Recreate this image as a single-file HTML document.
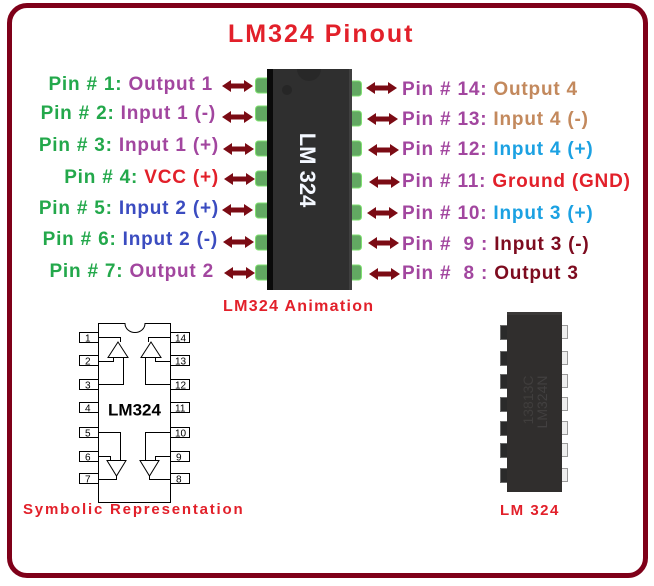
<!DOCTYPE html>
<html>
<head>
<meta charset="utf-8">
<style>
html,body{margin:0;padding:0;background:#fff;}
#wrap{position:relative;width:654px;height:586px;overflow:hidden;background:#fff;font-family:"Liberation Sans",Arial,sans-serif;}
.frame{position:absolute;left:7px;top:3px;width:631px;height:565px;border:5px solid #7f0019;border-radius:20px;}
.t{position:absolute;white-space:pre;font-weight:bold;}
.lab{font-size:19px;line-height:20px;letter-spacing:0.8px;}
.L{left:0;text-align:right;}
.g{color:#23a84b;}
.pu{color:#a2469f;}
.bl{color:#3b4cc0;}
.rd{color:#e2202a;}
.tan{color:#c3895d;}
.lb{color:#1ba1e2;}
.dr{color:#7d0b1f;}
svg{position:absolute;left:0;top:0;}
</style>
</head>
<body>
<div id="wrap">
<div class="frame"></div>

<svg width="654" height="586" viewBox="0 0 654 586">
  <!-- animation chip -->
  <g>
    <g fill="#62a862" stroke="#7fe070" stroke-width="1">
      <rect x="255.5" y="78" width="15" height="15" rx="3"/>
      <rect x="255.5" y="106" width="15" height="15" rx="3"/>
      <rect x="255.5" y="141" width="15" height="15" rx="3"/>
      <rect x="255.5" y="171" width="15" height="15" rx="3"/>
      <rect x="255.5" y="203" width="15" height="15" rx="3"/>
      <rect x="255.5" y="235" width="15" height="15" rx="3"/>
      <rect x="255.5" y="265" width="15" height="15" rx="3"/>
    </g>
    <g fill="#62a862" stroke="#7fe070" stroke-width="1">
      <rect x="347.5" y="81" width="14" height="15" rx="3"/>
      <rect x="347.5" y="111" width="14" height="15" rx="3"/>
      <rect x="347.5" y="141" width="14" height="15" rx="3"/>
      <rect x="347.5" y="173" width="14" height="15" rx="3"/>
      <rect x="347.5" y="205" width="14" height="15" rx="3"/>
      <rect x="347.5" y="235" width="14" height="15" rx="3"/>
      <rect x="347.5" y="265" width="14" height="15" rx="3"/>
    </g>
    <rect x="267" y="69" width="85" height="221" fill="#2f2f2f"/>
    <rect x="267" y="69" width="6" height="221" fill="#0a0a0a"/>
    <rect x="349" y="69" width="3" height="221" fill="#3f3f3f"/>
    <path d="M297 69 A12 12 0 0 0 321 69 Z" fill="#282828"/>
    <circle cx="287" cy="90" r="5" fill="#262626"/>
    <text x="0" y="0" transform="translate(300,170) rotate(90)" text-anchor="middle" font-family="Liberation Sans, Arial, sans-serif" font-weight="bold" font-size="22" fill="#f4f8ff">LM 324</text>
  </g>

  <!-- arrows -->
  <g fill="#7b0b14">
    <path d="M0 0 L9 -6 L9 -2.5 L22 -2.5 L22 -6 L31 0 L22 6 L22 2.5 L9 2.5 L9 6 Z" transform="translate(222,86)"/>
    <path d="M0 0 L9 -6 L9 -2.5 L22 -2.5 L22 -6 L31 0 L22 6 L22 2.5 L9 2.5 L9 6 Z" transform="translate(222,117)"/>
    <path d="M0 0 L9 -6 L9 -2.5 L22 -2.5 L22 -6 L31 0 L22 6 L22 2.5 L9 2.5 L9 6 Z" transform="translate(223,149)"/>
    <path d="M0 0 L9 -6 L9 -2.5 L22 -2.5 L22 -6 L31 0 L22 6 L22 2.5 L9 2.5 L9 6 Z" transform="translate(224,179)"/>
    <path d="M0 0 L9 -6 L9 -2.5 L22 -2.5 L22 -6 L31 0 L22 6 L22 2.5 L9 2.5 L9 6 Z" transform="translate(222,210)"/>
    <path d="M0 0 L9 -6 L9 -2.5 L22 -2.5 L22 -6 L31 0 L22 6 L22 2.5 L9 2.5 L9 6 Z" transform="translate(223,242)"/>
    <path d="M0 0 L9 -6 L9 -2.5 L22 -2.5 L22 -6 L31 0 L22 6 L22 2.5 L9 2.5 L9 6 Z" transform="translate(224,273)"/>

    <path d="M0 0 L9 -6 L9 -2.5 L22 -2.5 L22 -6 L31 0 L22 6 L22 2.5 L9 2.5 L9 6 Z" transform="translate(366,88)"/>
    <path d="M0 0 L9 -6 L9 -2.5 L22 -2.5 L22 -6 L31 0 L22 6 L22 2.5 L9 2.5 L9 6 Z" transform="translate(367,119)"/>
    <path d="M0 0 L9 -6 L9 -2.5 L22 -2.5 L22 -6 L31 0 L22 6 L22 2.5 L9 2.5 L9 6 Z" transform="translate(368,150)"/>
    <path d="M0 0 L9 -6 L9 -2.5 L22 -2.5 L22 -6 L31 0 L22 6 L22 2.5 L9 2.5 L9 6 Z" transform="translate(369,182)"/>
    <path d="M0 0 L9 -6 L9 -2.5 L22 -2.5 L22 -6 L31 0 L22 6 L22 2.5 L9 2.5 L9 6 Z" transform="translate(367,213)"/>
    <path d="M0 0 L9 -6 L9 -2.5 L22 -2.5 L22 -6 L31 0 L22 6 L22 2.5 L9 2.5 L9 6 Z" transform="translate(368,243)"/>
    <path d="M0 0 L9 -6 L9 -2.5 L22 -2.5 L22 -6 L31 0 L22 6 L22 2.5 L9 2.5 L9 6 Z" transform="translate(369,274)"/>
  </g>

  <!-- symbolic schematic -->
  <g fill="none" stroke="#000" stroke-width="1">
    <path d="M98.5 323.5 H125 A10 9 0 0 0 145 323.5 H170.5 V502.5 H98.5 Z" fill="#fff"/>
    <rect x="79.5" y="332.5" width="19" height="10"/>
    <rect x="79.5" y="355.5" width="19" height="10"/>
    <rect x="79.5" y="379.5" width="19" height="10"/>
    <rect x="79.5" y="402.5" width="19" height="10"/>
    <rect x="79.5" y="427.5" width="19" height="10"/>
    <rect x="79.5" y="451.5" width="19" height="10"/>
    <rect x="79.5" y="473.5" width="19" height="10"/>
    <rect x="170.5" y="332.5" width="19" height="10"/>
    <rect x="170.5" y="355.5" width="19" height="10"/>
    <rect x="170.5" y="379.5" width="19" height="10"/>
    <rect x="170.5" y="402.5" width="19" height="10"/>
    <rect x="170.5" y="427.5" width="19" height="10"/>
    <rect x="170.5" y="451.5" width="19" height="10"/>
    <rect x="170.5" y="473.5" width="19" height="10"/>
    <path d="M98.5 337.5 H120.5 V342"/>
    <path d="M118 342 L108 357.5 L128 357.5 Z"/>
    <path d="M113.5 357.5 V361.5 H98.5"/>
    <path d="M123.5 357.5 V384.5 H98.5"/>
    <path d="M170.5 337.5 H148.5 V342"/>
    <path d="M151 342 L141 357.5 L161 357.5 Z"/>
    <path d="M155.5 357.5 V361.5 H170.5"/>
    <path d="M145.5 357.5 V384.5 H170.5"/>
    <path d="M98.5 432.5 H120.5 V460.5"/>
    <path d="M98.5 456.5 H110.5 V460.5"/>
    <path d="M107 460.5 L126 460.5 L116.5 476 Z"/>
    <path d="M116.5 476 V479.5 H98.5"/>
    <path d="M170.5 432.5 H145.5 V460.5"/>
    <path d="M170.5 456.5 H155.5 V460.5"/>
    <path d="M140 460.5 L159 460.5 L149.5 476 Z"/>
    <path d="M149.5 476 V479.5 H170.5"/>
  </g>
  <g font-family="Liberation Sans, Arial, sans-serif" font-size="10" fill="#000">
    <text x="85" y="341.5">1</text>
    <text x="85" y="364.5">2</text>
    <text x="85" y="388.5">3</text>
    <text x="85" y="411.5">4</text>
    <text x="85" y="436.5">5</text>
    <text x="85" y="460.5">6</text>
    <text x="85" y="482.5">7</text>
    <text x="175" y="341.5">14</text>
    <text x="175" y="364.5">13</text>
    <text x="175" y="388.5">12</text>
    <text x="175" y="411.5">11</text>
    <text x="175" y="436.5">10</text>
    <text x="176" y="460.5">9</text>
    <text x="176" y="482.5">8</text>
  </g>
  <text x="134.5" y="415.5" text-anchor="middle" font-family="Liberation Sans, Arial, sans-serif" font-weight="bold" font-size="17" fill="#000">LM324</text>

  <!-- photo chip -->
  <g>
    <g fill="#2a2a2a" stroke="#6a6a6a" stroke-width="1">
      <rect x="500.5" y="325.5" width="7" height="14"/>
      <rect x="500.5" y="351.5" width="7" height="14"/>
      <rect x="500.5" y="374.5" width="7" height="14"/>
      <rect x="500.5" y="397.5" width="7" height="14"/>
      <rect x="500.5" y="421.5" width="7" height="14"/>
      <rect x="500.5" y="443.5" width="7" height="14"/>
      <rect x="500.5" y="468.5" width="7" height="14"/>
    </g>
    <g fill="#eeeeee" stroke="#9a9a9a" stroke-width="1">
      <rect x="561.5" y="325.5" width="6" height="13"/>
      <rect x="561.5" y="351.5" width="6" height="13"/>
      <rect x="561.5" y="374.5" width="6" height="13"/>
      <rect x="561.5" y="397.5" width="6" height="13"/>
      <rect x="561.5" y="421.5" width="6" height="13"/>
      <rect x="561.5" y="443.5" width="6" height="13"/>
      <rect x="561.5" y="468.5" width="6" height="13"/>
    </g>
    <rect x="507" y="312" width="55" height="180" fill="#302e2d"/>
    <rect x="507" y="312" width="55" height="3" fill="#3a3837"/>
    <text transform="translate(547,402) rotate(-90)" text-anchor="middle" font-family="Liberation Sans, Arial, sans-serif" font-size="14" fill="#424040">LM324N</text>
    <text transform="translate(533,400) rotate(-90)" text-anchor="middle" font-family="Liberation Sans, Arial, sans-serif" font-size="14" fill="#403e3d">13813C</text>
  </g>
</svg>

<div class="t rd" style="left:228px;top:19px;font-size:25px;line-height:30px;letter-spacing:2px;">LM324 Pinout</div>

<div class="t lab L" style="width:213px;top:75px;"><span class="g">Pin # 1: </span><span class="pu">Output 1</span></div>
<div class="t lab L" style="width:216px;top:104px;"><span class="g">Pin # 2: </span><span class="pu">Input 1 (-)</span></div>
<div class="t lab L" style="width:219px;top:136px;"><span class="g">Pin # 3: </span><span class="pu">Input 1 (+)</span></div>
<div class="t lab L" style="width:219px;top:167.5px;"><span class="g">Pin # 4: </span><span class="rd">VCC (+)</span></div>
<div class="t lab L" style="width:219px;top:198.5px;"><span class="g">Pin # 5: </span><span class="bl">Input 2 (+)</span></div>
<div class="t lab L" style="width:218px;top:229.5px;"><span class="g">Pin # 6: </span><span class="bl">Input 2 (-)</span></div>
<div class="t lab L" style="width:214px;top:261.5px;"><span class="g">Pin # 7: </span><span class="pu">Output 2</span></div>

<div class="t lab" style="left:402px;top:80px;"><span class="pu">Pin # 14: </span><span class="tan">Output 4</span></div>
<div class="t lab" style="left:402px;top:109.5px;"><span class="pu">Pin # 13: </span><span class="tan">Input 4 (-)</span></div>
<div class="t lab" style="left:402px;top:140px;"><span class="pu">Pin # 12: </span><span class="lb">Input 4 (+)</span></div>
<div class="t lab" style="left:402px;top:171.5px;"><span class="pu">Pin # 11: </span><span class="rd">Ground (GND)</span></div>
<div class="t lab" style="left:402px;top:203.5px;"><span class="pu">Pin # 10: </span><span class="lb">Input 3 (+)</span></div>
<div class="t lab" style="left:402px;top:235px;"><span class="pu">Pin #&nbsp; 9 : </span><span class="dr">Input 3 (-)</span></div>
<div class="t lab" style="left:402px;top:263.5px;"><span class="pu">Pin #&nbsp; 8 : </span><span class="dr">Output 3</span></div>

<div class="t rd" style="left:223px;top:296.5px;font-size:16px;line-height:20px;letter-spacing:1.3px;">LM324 Animation</div>
<div class="t rd" style="left:23px;top:499.5px;font-size:15px;line-height:20px;letter-spacing:1.8px;">Symbolic Representation</div>
<div class="t rd" style="left:500px;top:500.5px;font-size:15px;line-height:20px;letter-spacing:1.5px;">LM 324</div>
</div>
</body>
</html>
